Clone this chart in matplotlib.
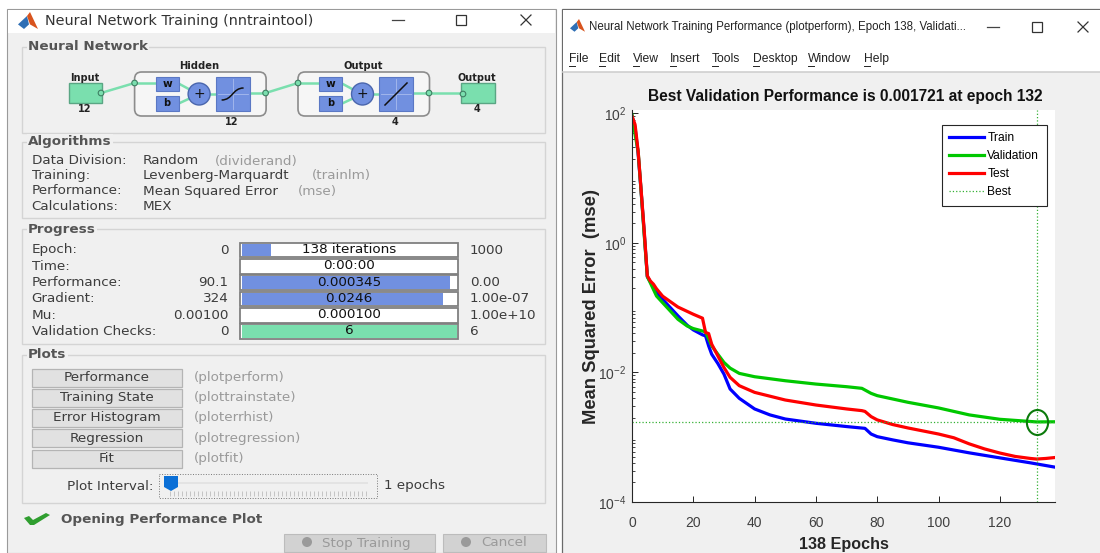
import matplotlib
matplotlib.use("Agg")
import matplotlib.pyplot as plt
from matplotlib.markers import MarkerStyle
from matplotlib.patches import Circle, FancyBboxPatch, Polygon, Rectangle
from matplotlib.path import Path
from matplotlib.patches import PathPatch
from matplotlib.ticker import FixedLocator, LogLocator, NullFormatter
from matplotlib.transforms import Affine2D

# performance curves
train_epochs = [0, 1, 2, 3, 4, 5, 6, 8, 10, 12, 15, 18, 20, 23, 24, 25, 26, 28, 30, 32, 35, 40, 45, 50, 60, 70, 76, 78, 80, 85, 90, 100, 110, 120, 130, 138]
train_mse = [90, 60, 24, 6, 1.4, 0.3, 0.25, 0.17, 0.134, 0.106, 0.0745, 0.0535, 0.0453, 0.038, 0.0366, 0.0257, 0.0191, 0.01374, 0.00942, 0.00555, 0.00398, 0.00273, 0.00221, 0.00191, 0.00164, 0.00146, 0.00137, 0.00112, 0.00102, 0.00091, 0.00082, 0.0007, 0.000574, 0.00048, 0.000402, 0.000345]

valid_epochs = [0, 1, 2, 3, 4, 5, 6, 8, 10, 12, 15, 18, 20, 24, 26, 28, 30, 32, 35, 40, 50, 60, 70, 75, 78, 80, 90, 100, 110, 120, 132, 138]
valid_mse = [95, 47, 26, 6, 1.3, 0.3, 0.24, 0.151, 0.119, 0.094, 0.066, 0.052, 0.0475, 0.0423, 0.0257, 0.0191, 0.01426, 0.01166, 0.00966, 0.00858, 0.00744, 0.00661, 0.00602, 0.00568, 0.00475, 0.00438, 0.00346, 0.00283, 0.00221, 0.00189, 0.001721, 0.00173]

test_epochs = [0, 1, 2, 3, 4, 5, 6, 7, 8, 10, 15, 20, 23, 24, 25, 26, 28, 30, 32, 35, 40, 50, 60, 70, 75, 76, 78, 80, 85, 90, 100, 105, 110, 115, 120, 125, 130, 132, 135, 138]
test_mse = [90, 67, 26, 6.3, 1.5, 0.31, 0.257, 0.23, 0.195, 0.15, 0.102, 0.079, 0.0687, 0.0412, 0.0398, 0.0273, 0.018, 0.0119, 0.0084, 0.00624, 0.00492, 0.00375, 0.00314, 0.00273, 0.00257, 0.0025, 0.00208, 0.00185, 0.00157, 0.00139, 0.00112, 0.00098, 0.00079, 0.00066, 0.00057, 0.000505, 0.00047, 0.00046, 0.00047, 0.000486]

best_epoch = 132
best_mse = 0.001721

x_ticks = [0, 20, 40, 60, 80, 100, 120]
y_ticks = [1e-4, 1e-2, 1e0, 1e2]
y_tick_labels = ["-4", "-2", "0", "2"]

# nntraintool texts
algorithm_rows = ["Data Division:", "Training:", "Performance:", "Calculations:"]
algorithm_values = ["Random", "Levenberg-Marquardt", "Mean Squared Error", "MEX"]
algorithm_funcs = ["(dividerand)", "(trainlm)", "(mse)", ""]

progress_rows = ["Epoch:", "Time:", "Performance:", "Gradient:", "Mu:", "Validation Checks:"]
progress_start = ["0", "", "90.1", "324", "0.00100", "0"]
progress_now = ["138 iterations", "0:00:00", "0.000345", "0.0246", "0.000100", "6"]
progress_end = ["1000", "", "0.00", "1.00e-07", "1.00e+10", "6"]
progress_fill = [0.138, 0, 0.97, 0.935, 0, 1.0]

plot_buttons = ["Performance", "Training State", "Error Histogram", "Regression", "Fit"]
plot_funcs = ["(plotperform)", "(plottrainstate)", "(ploterrhist)", "(plotregression)", "(plotfit)"]

menu_items = ["File", "Edit", "View", "Insert", "Tools", "Desktop", "Window", "Help"]
menu_left = [569, 599, 633, 670, 712, 753, 808, 864]

GUI_FONT = "DejaVu Sans"
FIG_FONT = "Liberation Sans"
GUI_SIZE = 9.7
BG = "#f0f0f0"
BOX_EDGE = "#d4d4d4"
GREY_TEXT = "#9a9a9a"
DARK_TEXT = "#3c3c3c"
NET_GREEN = "#7adfae"
NET_BLUE = "#7190e0"

fig = plt.figure(figsize=(11, 5.53), dpi=100, facecolor="white")

# everything outside the plot is drawn in pixel coordinates
gui = fig.add_axes([0, 0, 1, 1], zorder=0)
gui.set_xlim(0, 1100)
gui.set_ylim(553, 0)
gui.axis("off")


def rect(x0, y0, x1, y1, face, edge="none", lw=1.0, z=1):
    gui.add_patch(Rectangle((x0, y0), x1 - x0, y1 - y0, facecolor=face, edgecolor=edge, linewidth=lw, zorder=z))


def label(x, y, s, size=GUI_SIZE, color=DARK_TEXT, weight="normal", ha="left", family=GUI_FONT):
    gui.text(x, y, s, fontsize=size, color=color, fontweight=weight, ha=ha, va="center", family=family, zorder=5)


def group_box(x0, y0, x1, y1, title):
    rect(x0, y0, x1, y1, BG, BOX_EDGE, 1.0)
    gui.text(28, y0, title, fontsize=GUI_SIZE, color="#555555", fontweight="bold", family=GUI_FONT, va="center", zorder=5,
             bbox=dict(facecolor=BG, edgecolor="none", pad=1.0))


def matlab_icon(x, y, s):
    gui.add_patch(Polygon([(x, y + s * 0.62), (x + s * 0.45, y + s * 0.2), (x + s * 0.55, y + s * 0.62), (x + s * 0.3, y + s * 0.85)], facecolor="#2f6fb5", zorder=4))
    gui.add_patch(Polygon([(x + s * 0.45, y + s * 0.2), (x + s * 0.6, y), (x + s, y + s * 0.85), (x + s * 0.6, y + s * 0.62)], facecolor="#d8541e", zorder=4))


def window_buttons(xm, xs, xx, y):
    gui.plot([xm - 6, xm + 6], [y, y], color="#444444", lw=0.9, zorder=4)
    rect(xs - 5, y - 5, xs + 5, y + 5, "none", "#333333", 0.9, 4)
    gui.plot([xx - 5, xx + 5], [y - 5, y + 5], color="#333333", lw=0.9, zorder=4)
    gui.plot([xx - 5, xx + 5], [y + 5, y - 5], color="#333333", lw=0.9, zorder=4)


def node(x, y):
    gui.add_patch(Circle((x, y), 2.8, facecolor=NET_GREEN, edgecolor="#3f7f63", linewidth=0.8, zorder=4))


def net_line(xs, ys):
    gui.plot(xs, ys, color=NET_GREEN, lw=1.8, zorder=2, solid_capstyle="round")


def layer(x0, title, size_text, linear):
    # one Hidden/Output block of the network diagram
    gui.add_patch(FancyBboxPatch((x0, 72), 131.5, 44, boxstyle="round,pad=0,rounding_size=7", facecolor="#f6f6f6", edgecolor="#8c8c8c", linewidth=1.2, zorder=1.5))
    label(x0 + 65, 66, title, 7.2, "#222222", "bold", "center")
    net_line([x0, x0 + 21], [83, 83])
    net_line([x0 + 43, x0 + 56], [83, 90])
    net_line([x0 + 43, x0 + 56], [104, 98])
    net_line([x0 + 72, x0 + 82], [94, 94])
    net_line([x0 + 114, x0 + 131], [93, 93])
    node(x0, 83)
    node(x0 + 131, 93)
    rect(x0 + 21, 77, x0 + 44, 91, NET_BLUE, "#5b78c4", 0.8, 3)
    rect(x0 + 21, 96, x0 + 44, 111, NET_BLUE, "#5b78c4", 0.8, 3)
    label(x0 + 32.5, 84, "w", 7.6, "#111111", "bold", "center")
    label(x0 + 32.5, 103, "b", 7.0, "#111111", "bold", "center")
    gui.add_patch(Circle((x0 + 64.5, 94), 11, facecolor=NET_BLUE, edgecolor="#4a66ad", linewidth=1.0, zorder=3))
    label(x0 + 64.5, 93.5, "+", 10, "#111111", "normal", "center")
    rect(x0 + 81, 77, x0 + 115, 111, NET_BLUE, "#5b78c4", 0.8, 3)
    gui.plot([x0 + 98, x0 + 98], [79, 109], color="#a9bcee", lw=0.6, zorder=3.5)
    gui.plot([x0 + 83, x0 + 113], [94, 94], color="#a9bcee", lw=0.6, zorder=3.5)
    if linear:
        gui.plot([x0 + 87, x0 + 109], [105, 83], color="#111111", lw=1.1, zorder=4)
    else:
        curve = Path([(x0 + 87, 100), (x0 + 98, 100), (x0 + 98, 88), (x0 + 109, 88)], [Path.MOVETO, Path.CURVE4, Path.CURVE4, Path.CURVE4])
        gui.add_patch(PathPatch(curve, facecolor="none", edgecolor="#111111", linewidth=1.1, zorder=4))
    label(x0 + 97, 122, size_text, 7.0, "#222222", "bold", "center")


# left window
rect(7, 9, 556, 553, BG, "#9a9a9a", 0.8, 0.5)
rect(8, 10, 555, 33, "white", z=0.6)
matlab_icon(18, 12, 20)
label(45, 21, "Neural Network Training (nntraintool)", 10.4, "#333333")
window_buttons(398, 461, 526, 20)

group_box(21.5, 47, 545, 133, "Neural Network")
label(85, 78, "Input", 7.0, "#222222", "bold", "center")
rect(68.5, 83, 101.5, 103, NET_GREEN, "#5aa684", 1.0, 3)
label(85, 108.5, "12", 7.0, "#222222", "bold", "center")
net_line([101, 134.6], [93, 83])
node(101, 93)
layer(134.6, "Hidden", "12", False)
net_line([265.6, 298], [93, 83])
layer(298, "Output", "4", True)
net_line([429, 463], [93, 93])
rect(461, 83, 495, 103, NET_GREEN, "#5aa684", 1.0, 3)
node(463, 94)
label(477, 78, "Output", 7.0, "#222222", "bold", "center")
label(477, 108.5, "4", 7.0, "#222222", "bold", "center")

group_box(21.5, 142, 545, 218, "Algorithms")
func_left = [215, 312, 298, 0]
for i in range(len(algorithm_rows)):
    y = 161 + i * 15
    label(31.5, y, algorithm_rows[i])
    label(143, y, algorithm_values[i])
    if algorithm_funcs[i]:
        label(func_left[i], y, algorithm_funcs[i], color=GREY_TEXT)

group_box(21.5, 229, 545, 344, "Progress")
for i in range(len(progress_rows)):
    y = 250 + i * 16.3
    label(31.5, y, progress_rows[i])
    label(228.5, y, progress_start[i], ha="right")
    label(470, y, progress_end[i])
    rect(240, y - 7.3, 458, y + 7.3, "white", "#808080", 1.3, 2)
    fill = NET_GREEN if i == 5 else NET_BLUE
    if progress_fill[i] > 0:
        rect(241.5, y - 6.3, 241.5 + 215 * progress_fill[i], y + 6.3, fill, z=2.2)
    label(349, y - 0.5, progress_now[i], GUI_SIZE, "#111111", "normal", "center")

group_box(21.5, 355, 545, 503, "Plots")
for i in range(len(plot_buttons)):
    y = 377.5 + i * 20.25
    rect(32, y - 9, 181.5, y + 9, "#e1e1e1", "#b4b4b4", 0.9, 2)
    label(106.5, y, plot_buttons[i], ha="center")
    label(194, y, plot_funcs[i], color=GREY_TEXT)

label(153.5, 486, "Plot Interval:", ha="right")
label(384, 486, "1 epochs")
rect(159, 474, 377, 498, "none", "#777777", 0.7, 2)
gui.patches[-1].set_linestyle(":")
rect(170, 482, 368, 484, "#e3e3e3", z=2)
gui.vlines([170 + k * 4.0 for k in range(50)], 491, 496, color="#bdbdbd", lw=0.6, zorder=2)
gui.add_patch(Polygon([(164, 476), (178, 476), (178, 487), (171, 491), (164, 487)], facecolor="#0a6fd6", zorder=4))

gui.add_patch(Polygon([(24, 518), (29, 516), (33, 520), (46, 513), (50, 515), (34, 525), (30, 525)], facecolor="#2f9e2f", zorder=4))
label(61, 519, "Opening Performance Plot", GUI_SIZE, "#555555", "bold")

rect(283.5, 534, 435, 552, "#d2d2d2", "#bcbcbc", 0.8, 2)
rect(443, 534, 546, 552, "#d2d2d2", "#bcbcbc", 0.8, 2)
gui.add_patch(Circle((307, 542), 5, facecolor="#9a9a9a", zorder=3))
gui.add_patch(Circle((466, 542), 5, facecolor="#9a9a9a", zorder=3))
label(322, 543, "Stop Training", color=GREY_TEXT)
label(481, 543, "Cancel", color=GREY_TEXT)

# right window
rect(562, 9, 1101, 554, BG, "#6a6a6a", 0.9, 0.5)
rect(563, 10, 1100, 72, "white", z=0.6)
gui.plot([563, 1100], [72, 72], color="#cfcfcf", lw=1.2, zorder=1)
matlab_icon(570, 19, 15)
label(589, 27, "Neural Network Training Performance (plotperform), Epoch 138, Validati...", 8.3, "#222222", family=FIG_FONT)
window_buttons(993, 1037, 1083, 27)
for i in range(len(menu_items)):
    label(menu_left[i], 59, menu_items[i], 8.7, "#222222", family=FIG_FONT)
    gui.plot([menu_left[i], menu_left[i] + 6], [66, 66], color="#222222", lw=0.7, zorder=5)

# performance plot, 132 is the best epoch
ax = fig.add_axes([632 / 1100, (553 - 502) / 553, 423 / 1100, 392 / 553], zorder=2)
ax.plot(train_epochs, train_mse, color="#0000ff", lw=2.3, label="Train")
ax.plot(valid_epochs, valid_mse, color="#00c800", lw=2.3, label="Validation")
ax.plot(test_epochs, test_mse, color="#ff0000", lw=2.3, label="Test")
ax.plot([0, 138], [best_mse, best_mse], color="#35b035", lw=0.9, ls=":", label="Best")
ax.plot([best_epoch, best_epoch], [1e-4, 10**2.05], color="#35b035", lw=0.9, ls=":")
oval = MarkerStyle("o", transform=Affine2D().scale(0.85, 1.0))
ax.plot([best_epoch], [best_mse], marker=oval, ms=18, mfc="none", mec="#0b7a0b", mew=1.5, ls="none")

ax.set_yscale("log")
ax.set_xlim(0, 138)
ax.set_ylim(1e-4, 10**2.05)
ax.xaxis.set_major_locator(FixedLocator(x_ticks))
ax.yaxis.set_major_locator(FixedLocator(y_ticks))
ax.yaxis.set_minor_locator(LogLocator(base=10, subs=range(2, 10), numticks=20))
ax.yaxis.set_minor_formatter(NullFormatter())
ax.set_xticklabels([str(v) for v in x_ticks], family=FIG_FONT, fontsize=10, color="#404040")
ax.set_yticklabels(["$\\mathregular{10^{" + s + "}}$" for s in y_tick_labels], family=FIG_FONT, fontsize=10, color="#404040")
ax.tick_params(axis="both", which="major", direction="in", length=4, width=0.7, color="#262626", pad=4)
ax.tick_params(axis="x", which="major", pad=10)
ax.tick_params(axis="y", which="minor", direction="in", length=2, width=0.6, color="#262626")
for side in ["top", "right"]:
    ax.spines[side].set_visible(False)
for side in ["left", "bottom"]:
    ax.spines[side].set_linewidth(0.8)
    ax.spines[side].set_color("#262626")

leg = ax.legend(loc="upper left", bbox_to_anchor=((942 - 632) / 423, (502 - 125) / 392),
                prop={"family": FIG_FONT, "size": 8.65}, frameon=True, fancybox=False, framealpha=1, edgecolor="#262626",
                handlelength=2.9, handletextpad=0.25, labelspacing=0.5, borderpad=0.62, borderaxespad=0)
leg.get_frame().set_linewidth(0.8)

label(845, 96, "Best Validation Performance is 0.001721 at epoch 132", 11.2, "#111111", "bold", "center", FIG_FONT)
label(844, 544, "138 Epochs", 11.6, "#262626", "bold", "center", FIG_FONT)
gui.text(591, 306, "Mean Squared Error  (mse)", rotation=90, fontsize=13.2, color="#262626", fontweight="bold",
         ha="center", va="center", family=FIG_FONT, zorder=5)

fig.savefig("out.png", dpi=100, facecolor="white")
